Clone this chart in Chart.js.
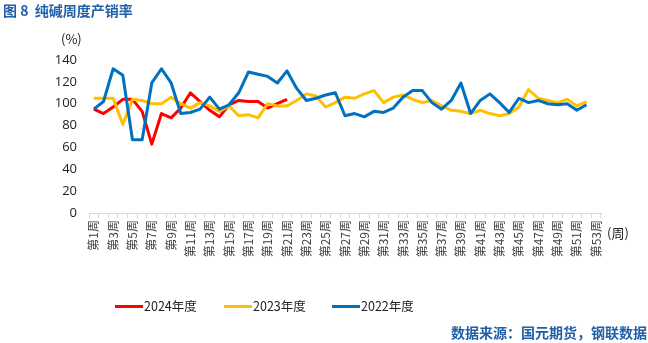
<!DOCTYPE html>
<html lang="zh">
<head>
<meta charset="UTF-8">
<title>纯碱周度产销率</title>
<script src="https://cdn.jsdelivr.net/npm/chart.js"></script>
<style>
    body { margin: 0; background: #fff; }
    .wrap { position: relative; width: 648px; height: 343px; overflow: hidden; font-family: "Noto Sans CJK SC", sans-serif; }
    .wrap canvas { position: absolute; left: 0; top: 0; }
    .title { position: absolute; left: 3px; top: 0px; font-size: 14px; line-height: 20px; color: #1f5fa6; font-weight: bold; }
    .unit-y { position: absolute; left: 61px; top: 30px; font-size: 13px; line-height: 18px; color: #222; }
    .unit-x { position: absolute; left: 607px; top: 224px; font-size: 13px; line-height: 18px; color: #222; }
    .legend { position: absolute; top: 297px; left: 0; font-size: 12.5px; line-height: 18px; color: #222; }
    .legend .item { position: absolute; white-space: nowrap; }
    .legend .swatch { display: inline-block; width: 28px; height: 3px; vertical-align: middle; margin-right: 1px; position: relative; top: -1px; }
    .source { position: absolute; left: 451px; top: 322px; font-size: 14px; line-height: 20px; color: #1f5fa6; font-weight: bold; white-space: nowrap; }
</style>
</head>
<body>
<div class="wrap">
    <canvas id="myChart" width="648" height="343"></canvas>
    <div class="title">图 8&nbsp; 纯碱周度产销率</div>
    <div class="unit-y">(%)</div>
    <div class="unit-x">(周)</div>
    <div class="legend" id="legend"></div>
    <div class="source">数据来源：国元期货，钢联数据</div>
</div>
<script>
    // x categories: week 1 .. week 53
    const weekLabels = Array.from({ length: 53 }, (_, i) => '第' + (i + 1) + '周');

    // y axis
    const yTicks = [0, 20, 40, 60, 80, 100, 120, 140];

    // values (%)
    const rate2024 = [95, 91, 97, 104, 104, 93, 63, 91, 87, 96, 110, 102, 94, 88, 99, 103, 102, 102, 96, 100, 104];

    const rate2023 = [105, 105, 105, 81, 104, 103, 100, 100, 106, 100, 96, 101, 98, 93, 98, 89,
        90, 87, 100, 98, 98, 103, 109, 107, 97, 101, 106, 105, 109, 112, 101, 106, 108, 104,
        101, 103, 98, 94, 93, 91, 94, 91, 89, 91, 97, 113, 105, 103, 101, 104, 98, 102];

    const rate2022 = [95, 102, 132, 126, 67, 67, 119, 132, 119, 91, 92, 95, 106, 95, 99, 110,
        129, 127, 125, 119, 130, 114, 103, 105, 108, 110, 89, 91, 88, 93, 92, 96, 106, 112,
        112, 101, 95, 103, 119, 91, 103, 109, 101, 92, 105, 101, 103, 100, 99, 100, 94, 99];

    const seriesNames = ['2024年度', '2023年度', '2022年度'];
    const seriesColors = ['#ff0000', '#ffc000', '#0070c0'];

    // legend (html)
    const legendX = [115, 224, 332];
    const legendEl = document.getElementById('legend');
    seriesNames.forEach((name, i) => {
        const item = document.createElement('div');
        item.className = 'item';
        item.style.left = legendX[i] + 'px';
        item.innerHTML = '<span class="swatch" style="background:' + seriesColors[i] + '"></span>' + name;
        legendEl.appendChild(item);
    });

    const lineStyle = (label, data, color) => ({
        label: label,
        data: data,
        borderColor: color,
        backgroundColor: color,
        borderWidth: 3,
        pointRadius: 0,
        tension: 0,
        fill: false,
        borderJoinStyle: 'round'
    });

    const ctx = document.getElementById('myChart').getContext('2d');
    const myChart = new Chart(ctx, {
        type: 'line',
        data: {
            labels: weekLabels,
            datasets: [
                lineStyle(seriesNames[2], rate2022, seriesColors[2]),
                lineStyle(seriesNames[1], rate2023, seriesColors[1]),
                lineStyle(seriesNames[0], rate2024, seriesColors[0])
            ]
        },
        options: {
            responsive: false,
            animation: false,
            devicePixelRatio: 1,
            layout: { padding: { left: 0, right: 47, top: 60, bottom: 50 } },
            plugins: {
                legend: { display: false },
                tooltip: { enabled: false }
            },
            scales: {
                x: {
                    type: 'category',
                    offset: true,
                    grid: {
                        display: true,
                        offset: true,
                        drawOnChartArea: false,
                        drawTicks: true,
                        tickLength: 5,
                        color: '#d9d9d9'
                    },
                    border: { display: true, color: '#d9d9d9', width: 1 },
                    ticks: {
                        autoSkip: false,
                        minRotation: 90,
                        maxRotation: 90,
                        padding: 2,
                        color: '#404040',
                        font: { family: '"Noto Sans CJK SC"', size: 12 },
                        callback: function (value, index) {
                            return index % 2 === 0 ? weekLabels[index] : '';
                        }
                    },
                    afterFit: (scale) => { scale.height = 80; }
                },
                y: {
                    min: yTicks[0],
                    max: yTicks[yTicks.length - 1],
                    grid: { display: false, drawTicks: false },
                    border: { display: false },
                    afterBuildTicks: (scale) => { scale.ticks = yTicks.map(v => ({ value: v })); },
                    ticks: {
                        padding: 12,
                        color: '#222',
                        font: { family: '"Open Sans", "Noto Sans"', size: 13 }
                    },
                    afterFit: (scale) => { scale.width = 89; }
                }
            }
        }
    });
</script>
</body>
</html>
